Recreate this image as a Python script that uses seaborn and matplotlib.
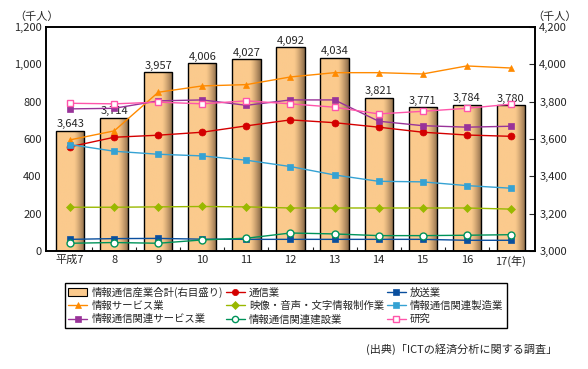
import matplotlib
matplotlib.use('Agg')
import matplotlib.pyplot as plt
import matplotlib.ticker as mticker
from matplotlib.colors import LinearSegmentedColormap
from matplotlib.patches import Patch
import numpy as np
import pandas as pd
import seaborn as sns

years = ['平成7', '8', '9', '10', '11', '12', '13', '14', '15', '16', '17(年)']
total = [3643, 3714, 3957, 4006, 4027, 4092, 4034, 3821, 3771, 3784, 3780]

tsushin = [558, 609, 620, 636, 670, 702, 687, 663, 636, 621, 614]
hoso = [62, 66, 67, 63, 62, 62, 62, 62, 62, 57, 57]
info_service = [595, 643, 850, 884, 891, 932, 955, 955, 948, 991, 980]
eizo = [234, 234, 236, 238, 236, 230, 230, 230, 230, 230, 224]
seizo = [570, 534, 518, 509, 486, 452, 407, 373, 370, 350, 336]
kanren_service = [761, 764, 804, 809, 780, 809, 809, 695, 671, 663, 668]
kensetsu = [41, 45, 41, 59, 68, 96, 91, 82, 82, 84, 87]
kenkyu = [791, 788, 797, 788, 804, 788, 770, 734, 748, 764, 786]

series = [
    ('通信業', tsushin, '#d40000', 'o', False),
    ('放送業', hoso, '#0a4f9e', 's', False),
    ('情報サービス業', info_service, '#ff8a00', '^', False),
    ('映像・音声・文字情報制作業', eizo, '#99b800', 'D', False),
    ('情報通信関連製造業', seizo, '#35a2d3', 's', False),
    ('情報通信関連サービス業', kanren_service, '#993399', 's', False),
    ('情報通信関連建設業', kensetsu, '#00935a', 'o', True),
    ('研究', kenkyu, '#ff55aa', 's', True),
]

sns.set_style('white')
plt.rcParams['font.family'] = ['Noto Sans CJK JP', 'DejaVu Sans']

fig = plt.figure(figsize=(5.88, 3.69), dpi=100)
ax = fig.add_axes([0.078, 0.32, 0.832, 0.607])
ax2 = ax.twinx()

# bars on the right axis
df_bar = pd.DataFrame({'year': years, 'total': total})
sns.barplot(data=df_bar, x='year', y='total', ax=ax2, color='#fbca8d',
            width=0.64, edgecolor='black', linewidth=1.0, saturation=1)
ax2.set_ylim(3000, 4200)

# gradient shading at right side of each bar
grad = np.linspace(0, 1, 64)
shade = np.clip((grad - 0.62) / 0.38, 0, 1) ** 1.3
cmap = LinearSegmentedColormap.from_list('bar', ['#fbca8d', '#8a6a48'])
for p in list(ax2.patches):
    x0, w, h = p.get_x(), p.get_width(), p.get_height()
    im = ax2.imshow(shade[np.newaxis, :], cmap=cmap, vmin=0, vmax=1,
                    extent=[x0, x0 + w, 3000, h], aspect='auto', zorder=1.5)
    im.set_clip_path(p)
    p.set_zorder(2)
    p.set_facecolor('none')
ax2.set_xlim(-0.55, 10.55)

for i, v in enumerate(total):
    ax2.text(i, v + 8, f'{v:,}', ha='center', va='bottom', fontsize=8)

# lines on the left axis
x = np.arange(len(years))
for name, vals, col, mk, hollow in series:
    sns.lineplot(x=x, y=vals, ax=ax, color=col, marker=mk, linewidth=1.0,
                 markersize=5 if mk != 'D' else 4.5,
                 markerfacecolor='white' if hollow else col,
                 markeredgecolor=col, markeredgewidth=1.0 if hollow else 0.5,
                 label=name, legend=False)
ax.set_ylim(0, 1200)
ax.set_xlim(-0.55, 10.55)
ax.set_zorder(ax2.get_zorder() + 1)
ax.patch.set_visible(False)

ax.set_xticks(x)
ax.set_xticklabels(years, fontsize=8)
ax.set_xticks(np.arange(0.5, 10.5, 1), minor=True)
ax.tick_params(axis='x', which='major', length=0, pad=3)
ax.tick_params(axis='x', which='minor', direction='in', length=3, width=0.8, bottom=True)
ax.yaxis.set_major_locator(mticker.MultipleLocator(200))
ax.yaxis.set_major_formatter(mticker.FuncFormatter(lambda v, p: f'{int(v):,}'))
ax.tick_params(axis='y', labelsize=8, length=0, pad=3)
ax2.yaxis.set_major_locator(mticker.MultipleLocator(200))
ax2.yaxis.set_major_formatter(mticker.FuncFormatter(lambda v, p: f'{int(v):,}'))
ax2.tick_params(axis='y', labelsize=8, direction='in', length=4, width=0.8, pad=3)
ax.set_xlabel('')
ax.set_ylabel('')
ax2.set_xlabel('')
ax2.set_ylabel('')
for a in (ax, ax2):
    for s in a.spines.values():
        s.set_color('black')
        s.set_linewidth(1.2)

fig.text(0.024, 0.955, '（千人）', fontsize=8, ha='left', va='center')
fig.text(0.905, 0.955, '（千人）', fontsize=8, ha='left', va='center')

# legend, laid out row-wise like the reference
lines = ax.get_lines()
bar_handle = Patch(facecolor='#fbca8d', edgecolor='black', linewidth=0.8)
h = [bar_handle] + list(lines)
lab = ['情報通信産業合計(右目盛り)'] + [s[0] for s in series]
order = [0, 3, 6, 1, 4, 7, 2, 5, 8]
fig.legend([h[i] for i in order], [lab[i] for i in order], ncol=3,
           loc='upper left', bbox_to_anchor=(0.110, 0.233), borderaxespad=0,
           fontsize=7.5, frameon=True, fancybox=False, edgecolor='black',
           framealpha=1, borderpad=0.35, labelspacing=0.3, handlelength=1.8,
           handletextpad=0.4, columnspacing=0.3, markerscale=0.9)
leg = fig.legends[0]
leg.get_frame().set_linewidth(1.0)

fig.text(0.948, 0.053, '(出典)「ICTの経済分析に関する調査」', fontsize=8,
         ha='right', va='center')

fig.savefig('out.png', dpi=100)
